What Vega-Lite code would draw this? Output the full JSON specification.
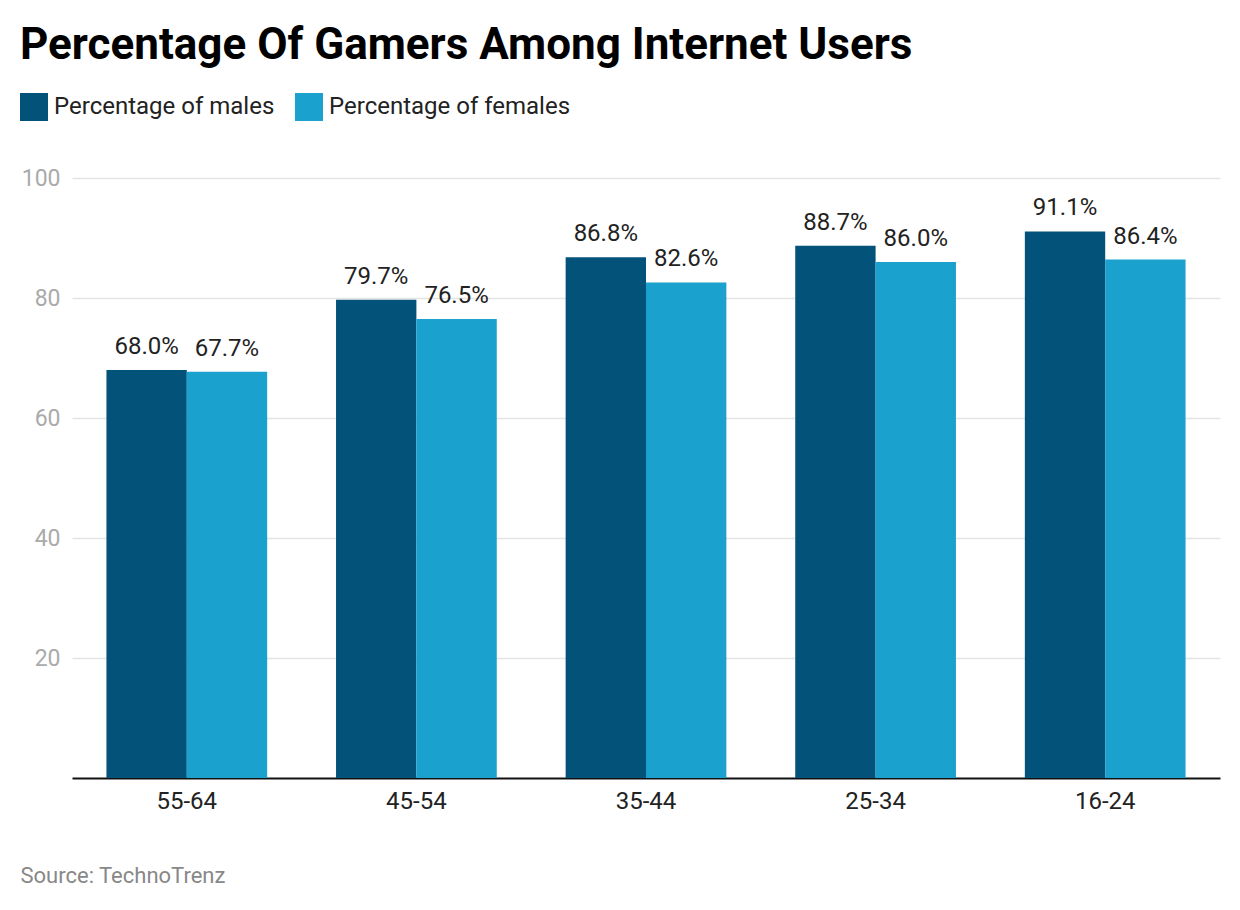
{
  "$schema": "https://vega.github.io/schema/vega-lite/v6.json",
  "autosize": "none",
  "width": 1148,
  "height": 600,
  "padding": {"left": 72, "top": 178, "right": 20, "bottom": 132},
  "background": "white",
  "config": {
    "font": "Roboto",
    "view": {"stroke": null}
  },
  "title": {
    "text": "Percentage Of Gamers Among Internet Users",
    "anchor": "start",
    "frame": "group",
    "dx": -52,
    "offset": -10,
    "baseline": "alphabetic",
    "fontSize": 44,
    "fontWeight": "bold",
    "color": "#000000",
    "font": "Roboto"
  },
  "data": {
    "values": [
      {"age": "55-64", "series": "Percentage of males", "value": 68.0},
      {"age": "55-64", "series": "Percentage of females", "value": 67.7},
      {"age": "45-54", "series": "Percentage of males", "value": 79.7},
      {"age": "45-54", "series": "Percentage of females", "value": 76.5},
      {"age": "35-44", "series": "Percentage of males", "value": 86.8},
      {"age": "35-44", "series": "Percentage of females", "value": 82.6},
      {"age": "25-34", "series": "Percentage of males", "value": 88.7},
      {"age": "25-34", "series": "Percentage of females", "value": 86.0},
      {"age": "16-24", "series": "Percentage of males", "value": 91.1},
      {"age": "16-24", "series": "Percentage of females", "value": 86.4}
    ]
  },
  "encoding": {
    "x": {
      "field": "age",
      "type": "nominal",
      "sort": null,
      "scale": {"paddingInner": 0.3, "paddingOuter": 0.15},
      "axis": {
        "title": "Source: TechnoTrenz",
        "titleAnchor": "start",
        "titleAlign": "left",
        "titleX": -52,
        "titleY": 104,
        "titleBaseline": "alphabetic",
        "titleFontSize": 22,
        "titleFontWeight": "normal",
        "titleColor": "#888888",
        "labelAngle": 0,
        "labelFontSize": 24,
        "labelColor": "#222222",
        "labelPadding": 11,
        "ticks": false,
        "domainColor": "#111111",
        "domainWidth": 2
      }
    },
    "xOffset": {
      "field": "series",
      "type": "nominal",
      "sort": ["Percentage of males", "Percentage of females"]
    },
    "y": {
      "field": "value",
      "type": "quantitative",
      "scale": {"domain": [0, 100]},
      "axis": {
        "title": null,
        "values": [20, 40, 60, 80, 100],
        "labelFontSize": 23,
        "labelColor": "#aaaaaa",
        "labelPadding": 12,
        "ticks": false,
        "domain": false,
        "gridColor": "#e4e4e4",
        "gridWidth": 1.5
      }
    }
  },
  "layer": [
    {
      "mark": {"type": "bar"},
      "encoding": {
        "color": {
          "field": "series",
          "type": "nominal",
          "scale": {
            "domain": ["Percentage of males", "Percentage of females"],
            "range": ["#03527A", "#1AA1CE"]
          },
          "legend": {
            "title": null,
            "orient": "none",
            "legendX": -52,
            "legendY": -85,
            "direction": "horizontal",
            "symbolType": "square",
            "symbolSize": 784,
            "symbolStrokeWidth": 0,
            "labelFontSize": 24,
            "labelColor": "#222222",
            "labelOffset": 6,
            "columnPadding": 20,
            "labelLimit": 400
          }
        }
      }
    },
    {
      "transform": [
        {"calculate": "format(datum.value, '.1f') + '%'", "as": "label"}
      ],
      "mark": {"type": "text", "baseline": "alphabetic", "dy": -16, "fontSize": 24, "color": "#222222"},
      "encoding": {
        "text": {"field": "label", "type": "nominal"}
      }
    }
  ]
}
